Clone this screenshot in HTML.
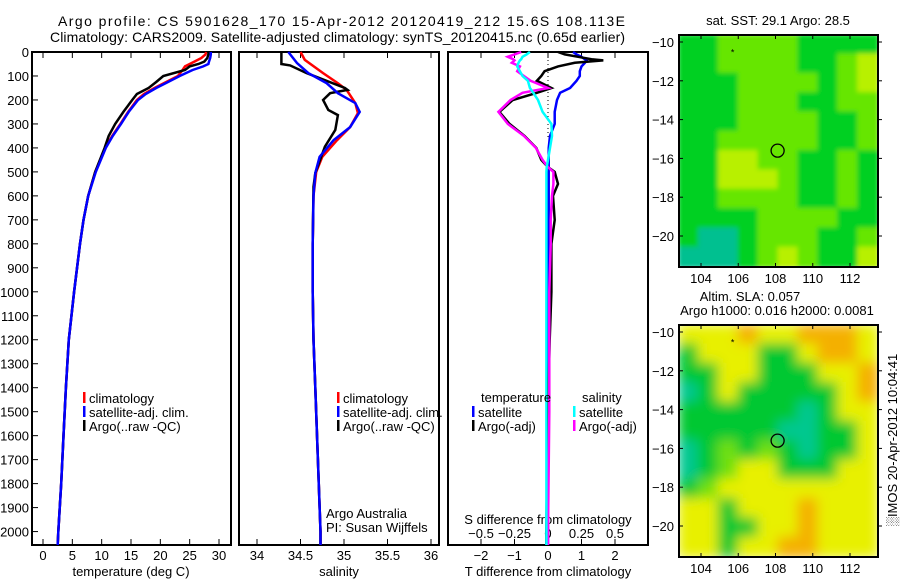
<!DOCTYPE html>
<html><head><meta charset="utf-8"><style>
html,body{margin:0;padding:0;background:#fff;}
svg{display:block;font-family:"Liberation Sans",sans-serif;}
</style></head><body>
<svg id="fig" width="900" height="580" viewBox="0 0 900 580" xmlns="http://www.w3.org/2000/svg">
<defs><filter id="blur" x="0" y="0" width="1" height="1"><feGaussianBlur stdDeviation="6"/></filter>
<filter id="blur2" x="0" y="0" width="1" height="1"><feGaussianBlur stdDeviation="2.5"/></filter>
<clipPath id="cm1"><rect x="679" y="35" width="199" height="232"/></clipPath>
<clipPath id="cm2"><rect x="679" y="325" width="199" height="232"/></clipPath></defs>
<text x="58" y="26" font-size="14" textLength="567">Argo profile: CS 5901628_170 15-Apr-2012 20120419_212 15.6S 108.113E</text>
<text x="50" y="42" font-size="14" textLength="575">Climatology: CARS2009. Satellite-adjusted climatology: synTS_20120415.nc (0.65d earlier)</text>
<g id="g"></g>
</svg>
<script>
// ---- Temperature panel data ----
const tDepthClim=[0,10,25,40,50,60,75,100,125,150,175,200,250,300,350,400,500,600,700,800,1000,1200,1400,1600,1800,2000,2056];
const tClim=[27.8,27.7,27.0,25.8,25.0,24.2,23.8,23.0,21.0,19.0,17.2,16.0,14.5,13.2,11.8,10.6,8.9,7.7,6.9,6.3,5.3,4.4,3.9,3.5,3.1,2.6,2.5];
const tSat=[28.6,28.6,28.5,28.3,28.2,27.3,25.5,23.3,21.3,19.3,17.5,16.2,14.6,13.3,11.9,10.7,9.0,7.7,6.9,6.3,5.3,4.4,3.9,3.5,3.1,2.6,2.5];
const tArgo=[28.2,28.2,28.0,27.5,26.5,25.0,24.2,20.5,19.3,18.0,16.0,15.2,13.7,12.3,11.2,10.5,8.9,7.7,6.9,6.3,5.3,4.4,3.9,3.5,3.1,2.6,2.5];
// ---- Salinity panel data ----
const sDepthClim=[0,33,88,130,158,213,255,313,368,437,500,600,800,1000,1200,1400,1700,2000,2056];
const sClim=[34.50,34.55,34.76,34.93,35.03,35.13,35.16,35.07,34.92,34.75,34.68,34.65,34.64,34.64,34.65,34.67,34.70,34.73,34.73];
const sDepthSat=[0,46,88,130,172,213,250,313,368,437,505,600,800,1000,1200,1400,1700,2000,2056];
const sSat=[34.36,34.46,34.59,34.80,34.93,35.13,35.18,35.07,34.88,34.72,34.67,34.65,34.64,34.64,34.65,34.67,34.70,34.73,34.73];
const sDepthArgo=[0,50,56,88,150,158,172,200,242,263,325,395,505,562,800,1000,1200,1400,1700,2000,2056];
const sArgo=[34.28,34.28,34.38,34.57,35.01,35.04,34.84,34.76,34.82,34.93,34.90,34.78,34.67,34.65,34.64,34.64,34.65,34.67,34.70,34.73,34.73];
// ---- Difference panel data ----
const dDepth=[0,10,20,30,35,45,60,80,100,120,150,170,200,250,300,350,400,450,480,500,550,600,700,800,1000,1200,1500,2000,2056];
const dTsat=[0.75,0.85,1.0,1.1,1.15,1.1,1.0,0.95,0.95,0.85,0.66,0.36,0.27,0.2,0.2,0.06,0.02,0.02,0.02,0.02,0.02,0.02,0.02,0.02,0.02,0.01,0.0,0.0,0.0];
const dTargo=[0.3,0.5,0.9,1.3,1.65,0.8,0.3,-0.1,-0.2,-0.33,0.1,-0.33,-1.05,-1.45,-1.15,-0.7,-0.35,-0.2,0.0,0.2,0.3,0.15,0.2,0.1,0.1,0.05,0.0,-0.05,-0.05];
const dSargo=[-0.2,-0.25,-0.3,-0.26,-0.25,-0.27,-0.21,-0.23,-0.18,-0.13,0,-0.19,-0.28,-0.37,-0.3,-0.18,-0.09,-0.04,0,0.04,0.04,0.03,0.02,0.02,0.01,0.01,0.01,0.0,0.0];
const dSsat=[-0.135,-0.16,-0.19,-0.2,-0.21,-0.22,-0.23,-0.21,-0.19,-0.15,-0.135,-0.11,-0.075,-0.04,0.025,0.03,0.015,0,-0.01,-0.012,-0.012,-0.012,-0.012,-0.012,-0.012,-0.012,-0.012,-0.012,-0.012];
// ---- ticks ----
const depthTicks=[0,100,200,300,400,500,600,700,800,900,1000,1100,1200,1300,1400,1500,1600,1700,1800,1900,2000];
const tTicks=[0,5,10,15,20,25,30];
const sTicks=[34,34.5,35,35.5,36];
const sLabels=["34","34.5","35","35.5","36"];
const dtTicks=[-2,-1,0,1,2];
const dsTicks=[-0.5,-0.25,0,0.25,0.5];
const dsLabels=["\u22120.5","\u22120.25","0","0.25","0.5"];
const lonTicks=[104,106,108,110,112];
const latTicks=[-10,-12,-14,-16,-18,-20];
// map grids (colour class per cell)
const sstGrid=["GGLLLLGGGG","GGLLLLGGLY","GGGLLLLGLY","GGGLLLGGLL","GGGLLLLGGL","GGLLLLLGGL","GGYYLLGGLG","GGYYYLGGLG","GGLLLLGGLG","GGGGLLLLGG","GTTGLLLGGL","TTTGLYLGGY"];
const slaGrid=["YYYOYYOOOY","GYYYGGYOOY","GGYYGGGYYO","TGYGGGGGYO","GGGGGGTGYY","GGGGGTTGGY","TGLGLGTGGY","TGLYYGGGYY","GLYYYYYYYY","YYGYYYOYYY","YYGGYYOYYY","YYGYYOOYYY"];

const NS="http://www.w3.org/2000/svg";
const G=document.getElementById('g');
function el(t,a,txt){const e=document.createElementNS(NS,t);for(const k in a)e.setAttribute(k,a[k]);if(txt!==undefined)e.textContent=txt;G.appendChild(e);return e;}
const Y0=52,YB=545,DMAX=2056;
function yD(d){return Y0+d*(YB-Y0)/DMAX;}
function xT(v){return 43+(v-0)*5.8667;}
function xS(v){return 257+(v-34)*87;}
function xDT(v){return 548+v*33.5;}
function xDS(v){return 548+v*4*33.5;}
function line(depths,vals,fx,color,name,w){
  const p=depths.map((d,i)=>fx(vals[i]).toFixed(1)+","+yD(d).toFixed(1)).join(" ");
  const e=el('polyline',{points:p,fill:'none',stroke:color,'stroke-width':w||2.5,'stroke-linejoin':'miter'});
  
  
}
function frame(x,w,name){const e=el('rect',{x:x,y:Y0,width:w,height:YB-Y0,fill:'none',stroke:'#000','stroke-width':2});
  
  }
function xticks(vals,labels,fx,x0,x1,name){vals.forEach((v,i)=>{const x=fx(v);
  el('line',{x1:x,x2:x,y1:YB,y2:YB-6,stroke:'#000'});el('line',{x1:x,x2:x,y1:Y0,y2:Y0+6,stroke:'#000'});
  const t=el('text',{x:x,y:560,'font-size':13,'text-anchor':'middle'},labels?labels[i]:String(v));
  
  });}
// panel 1
frame(32,199,'temperature-panel');
depthTicks.forEach(d=>{const y=yD(d);el('line',{x1:32,x2:38,y1:y,y2:y,stroke:'#000'});
  const t=el('text',{x:29,y:y+5,'font-size':13,'text-anchor':'end'},String(d));
  
  });
xticks(tTicks,null,xT,32,231,'temperature-tick-label');
let t1=el('text',{x:131,y:576,'font-size':13,'text-anchor':'middle'},'temperature (deg C)');


line(tDepthClim,tClim,xT,'#ff0000','temp-climatology-line');
line(tDepthClim,tArgo,xT,'#000000','temp-argo-line');
line(tDepthClim,tSat,xT,'#0000ff','temp-satellite-line');
// panel 2
frame(239,200,'salinity-panel');
xticks(sTicks,sLabels,xS,239,439,'salinity-tick-label');
let t2=el('text',{x:339,y:576,'font-size':13,'text-anchor':'middle'},'salinity');


line(sDepthClim,sClim,xS,'#ff0000','sal-climatology-line');
line(sDepthArgo,sArgo,xS,'#000000','sal-argo-line');
line(sDepthSat,sSat,xS,'#0000ff','sal-satellite-line');
let a1=el('text',{x:326,y:518,'font-size':13},'Argo Australia');


let a2=el('text',{x:326,y:532,'font-size':13},'PI: Susan Wijffels');


// legends
function legend(x,y,color,label,name){el('rect',{x:x,y:y-11,width:2.5,height:11,fill:color});
  const t=el('text',{x:x+6,y:y,'font-size':13},label);
  
  }
legend(83,403,'#ff0000','climatology','legend-climatology');
legend(83,417,'#0000ff','satellite-adj. clim.','legend-satellite');
legend(83,431,'#000000','Argo(..raw -QC)','legend-argo');
legend(337,403,'#ff0000','climatology','legend-climatology-sal');
legend(337,417,'#0000ff','satellite-adj. clim.','legend-satellite-sal');
legend(337,431,'#000000','Argo(..raw -QC)','legend-argo-sal');
// panel 3
frame(448,200,'difference-panel');
dtTicks.forEach(v=>{const x=xDT(v);el('line',{x1:x,x2:x,y1:YB,y2:YB-6,stroke:'#000'});el('line',{x1:x,x2:x,y1:Y0,y2:Y0+6,stroke:'#000'});
  const t=el('text',{x:x,y:560,'font-size':13,'text-anchor':'middle'},v<0?'\u2212'+(-v):String(v));
  
  });
dsTicks.forEach((v,i)=>{const x=xDS(v);el('line',{x1:x,x2:x,y1:YB,y2:YB-4,stroke:'#000'});
  const t=el('text',{x:x,y:538,'font-size':13,'text-anchor':'middle'},dsLabels[i]);
  
  });
let t3=el('text',{x:548,y:524,'font-size':13,'text-anchor':'middle'},'S difference from climatology');


let t4=el('text',{x:548,y:576,'font-size':13,'text-anchor':'middle'},'T difference from climatology');


el('line',{x1:548,x2:548,y1:52,y2:140,stroke:'#000','stroke-dasharray':'1,3'});
line(dDepth,dTsat,xDT,'#0000ff','tdiff-satellite-line');
line(dDepth,dTargo,xDT,'#000000','tdiff-argo-line');
line(dDepth,dSargo,xDS,'#ff00ff','sdiff-argo-line');
line(dDepth,dSsat,xDS,'#00ffff','sdiff-satellite-line');
let l0=el('text',{x:481,y:402,'font-size':13},'temperature');


let l1=el('text',{x:582,y:402,'font-size':13},'salinity');


legend(472,417,'#0000ff','satellite','legend-t-satellite');
legend(472,431,'#000000','Argo(-adj)','legend-t-argo');
legend(573,417,'#00ffff','satellite','legend-s-satellite');
legend(573,431,'#ff00ff','Argo(-adj)','legend-s-argo');
// maps
function xLon(v){return 701+(v-104)*18.625;}
function yLat(v,top){return top+7+(-10-v)*19.4;}
const colA={G:'#00d020',L:'#66e600',Y:'#b8f000',T:'#00c090'};
const colB={G:'#00c832',L:'#70e010',Y:'#e8f000',O:'#f4b000',T:'#00c890'};
function map(top,grid,cols,clip,filt,name,title1,title2){
  const g=document.createElementNS(NS,'g');g.setAttribute('clip-path','url(#'+clip+')');G.appendChild(g);
  const inner=document.createElementNS(NS,'g');inner.setAttribute('filter','url(#'+filt+')');g.appendChild(inner);
  const cw=199/10,ch=232/12;
  grid.forEach((row,r)=>{for(let c=0;c<row.length;c++){const e=document.createElementNS(NS,'rect');
    e.setAttribute('x',679+c*cw-1);e.setAttribute('y',top+r*ch-1);e.setAttribute('width',cw+2);e.setAttribute('height',ch+2);e.setAttribute('fill',cols[row[c]]);inner.appendChild(e);}});
  const fr=el('rect',{x:679,y:top,width:199,height:232,fill:'none',stroke:'#000','stroke-width':2});
  
  
  lonTicks.forEach(v=>{const x=xLon(v);el('line',{x1:x,x2:x,y1:top,y2:top+4,stroke:'#000'});el('line',{x1:x,x2:x,y1:top+232,y2:top+228,stroke:'#000'});
    const t=el('text',{x:x,y:top+248,'font-size':13,'text-anchor':'middle'},String(v));
    
    });
  latTicks.forEach(v=>{const y=yLat(v,top);el('line',{x1:679,x2:683,y1:y,y2:y,stroke:'#000'});el('line',{x1:878,x2:882,y1:y,y2:y,stroke:'#000'});
    const t=el('text',{x:674,y:y+5,'font-size':13,'text-anchor':'end'},'\u2212'+(-v));
    
    });
  const c=el('circle',{cx:xLon(108.113),cy:yLat(-15.6,top),r:6.5,fill:'none',stroke:'#000','stroke-width':1.3});
  
  
  el('text',{x:xLon(105.7),y:yLat(-10.5,top)+4,'font-size':9,'text-anchor':'middle'},'*');
}
map(35,sstGrid,colA,'cm1','blur2','sst-map');
map(325,slaGrid,colB,'cm2','blur','sla-map');
let m1=el('text',{x:778,y:25,'font-size':13,'text-anchor':'middle'},'sat. SST: 29.1 Argo: 28.5');


let m2=el('text',{x:750,y:301,'font-size':13,'text-anchor':'middle'},'Altim. SLA: 0.057');


let m3=el('text',{x:777,y:315,'font-size':13,'text-anchor':'middle'},'Argo h1000: 0.016 h2000: 0.0081');


let ts=el('text',{x:0,y:0,'font-size':13,'text-anchor':'middle',transform:'translate(897,440) rotate(-90)'},'\u2591IMOS 20-Apr-2012 10:04:41');


</script>
</body></html>
